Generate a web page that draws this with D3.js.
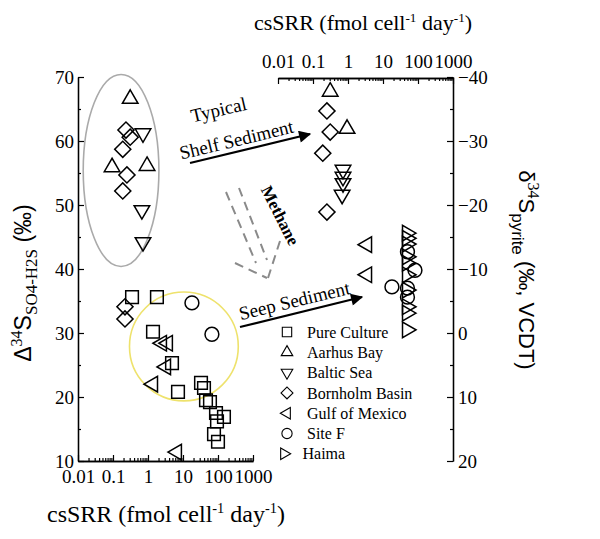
<!DOCTYPE html>
<html>
<head>
<meta charset="utf-8">
<script src="https://cdn.jsdelivr.net/npm/d3@7"></script>
<style>
  body { margin: 0; background: #fff; }
</style>
</head>
<body>
<div id="chart"></div>
<script>
const FRAME_WIDTH = 600;
const FRAME_HEIGHT = 539;
const SERIF = "Liberation Serif";
const SANS = "Liberation Sans";

// series (legend order)
const SERIES = ["Pure Culture", "Aarhus Bay", "Baltic Sea", "Bornholm Basin",
                "Gulf of Mexico", "Site F", "Haima"];

// fractionation vs csSRR (bottom / left axes)
const PURE_SRR = [0.35, 1.8, 1.39, 4.85, 7.2, 32.7, 39.8, 45.4, 59, 87.7, 148, 93.6, 76.9, 100];
const PURE_D   = [35.6, 35.6, 30.2, 25.3, 20.8, 22.2, 21.4, 19.5, 19.2, 17.5, 16.9, 16.2, 14.2, 13.0];
const AARHUS_SRR = [0.31, 0.094, 0.94];
const AARHUS_D   = [66.6, 55.9, 56.1];
const BALTIC_SRR = [0.72, 0.67, 0.72];
const BALTIC_D   = [61.2, 49.2, 44.2];
const BORN_SRR = [0.235, 0.31, 0.19, 0.25, 0.19, 0.22, 0.22];
const BORN_D   = [61.7, 60.6, 58.7, 54.7, 52.2, 34.1, 32.2];
const GULF_SRR = [2.5, 3.7, 3.27, 1.39, 6.7];
const GULF_D   = [28.4, 28.4, 24.7, 22.0, 11.4];
const SITEF_SRR = [18, 67];
const SITEF_D   = [34.7, 29.8];

// pyrite d34S vs csSRR (top / right axes)
const AARHUS_PY_SRR = [0.31, 0.94];
const AARHUS_PY = [-37.7, -31.9];
const BALTIC_PY_SRR = [0.72, 0.72, 0.72, 0.68];
const BALTIC_PY = [-25.5, -24.4, -23.4, -21.6];
const BORN_PY_SRR = [0.25, 0.31, 0.19, 0.25];
const BORN_PY = [-34.7, -31.4, -28.1, -18.9];
const GULF_PY_SRR = [3.5, 3.5];
const GULF_PY = [-13.8, -9.1];
const SITEF_PY_SRR = [50, 82, 18, 50, 50];
const SITEF_PY = [-12.7, -9.8, -7.2, -7.0, -5.6];
const HAIMA_PY_SRR = [48.5, 48.5, 48.5, 48.5, 48.5, 48.5, 48.5, 48.5, 48.5, 48.5];
const HAIMA_PY = [-15.6, -14.8, -13.9, -11.9, -10.9, -9.1, -6.7, -4.1, -3.1, -0.5];

// tick labels
const LOG_TICKS = [0.01, 0.1, 1, 10, 100, 1000];
const LOG_LABELS = ["0.01", "0.1", "1", "10", "100", "1000"];
const LEFT_TICKS = [10, 20, 30, 40, 50, 60, 70];
const RIGHT_TICKS = [-40, -30, -20, -10, 0, 10, 20];
const RIGHT_LABELS = ["\u221240", "\u221230", "\u221220", "\u221210", "0", "10", "20"];

const SVG = d3.select("#chart")
  .append("svg")
    .attr("width", FRAME_WIDTH)
    .attr("height", FRAME_HEIGHT)
    .attr("font-family", SERIF);

// scales
const X_BOT = d3.scaleLog().domain([0.01, 1000]).range([78, 253]);
const Y_LEFT = d3.scaleLinear().domain([10, 70]).range([461, 77]);
const X_TOP = d3.scaleLog().domain([0.01, 1000]).range([278, 453]);
const Y_RIGHT = d3.scaleLinear().domain([-40, 20]).range([77, 461]);

// minor ticks for log axes
const LOG_MINOR = [];
for (let e = -2; e < 3; e++) {
  for (let m = 2; m < 10; m++) LOG_MINOR.push(m * Math.pow(10, e));
}

function styleAxis(g) {
  g.attr("font-family", SERIF).attr("font-size", "19px");
  g.select(".domain").attr("stroke", "#000").attr("stroke-width", 1.3);
  g.selectAll(".tick line").attr("stroke", "#000").attr("stroke-width", 1.2);
  g.selectAll("text").attr("fill", "#000");
}

// bottom axis
SVG.append("g").attr("transform", "translate(0,461)")
  .call(d3.axisBottom(X_BOT).tickValues(LOG_MINOR).tickSize(-3).tickSizeOuter(0).tickFormat(""))
  .call(styleAxis);
SVG.append("g").attr("transform", "translate(0,461)")
  .call(d3.axisBottom(X_BOT).tickValues(LOG_TICKS).tickSize(-6).tickSizeOuter(0)
        .tickPadding(9).tickFormat((d, i) => LOG_LABELS[i]))
  .call(styleAxis);

// top axis
SVG.append("g").attr("transform", "translate(0,78)")
  .call(d3.axisTop(X_TOP).tickValues(LOG_MINOR).tickSize(-3).tickSizeOuter(0).tickFormat(""))
  .call(styleAxis);
SVG.append("g").attr("transform", "translate(0,78)")
  .call(d3.axisTop(X_TOP).tickValues(LOG_TICKS).tickSize(-6).tickSizeOuter(0)
        .tickPadding(10).tickFormat((d, i) => LOG_LABELS[i]))
  .call(styleAxis);

// left axis
SVG.append("g").attr("transform", "translate(78,0)")
  .call(d3.axisLeft(Y_LEFT).tickValues(d3.range(15, 70, 10)).tickSize(-3).tickSizeOuter(0).tickFormat(""))
  .call(styleAxis);
SVG.append("g").attr("transform", "translate(78,0)")
  .call(d3.axisLeft(Y_LEFT).tickValues(LEFT_TICKS).tickSize(-6).tickSizeOuter(0).tickPadding(4))
  .call(styleAxis);

// right axis
SVG.append("g").attr("transform", "translate(453,0)")
  .call(d3.axisRight(Y_RIGHT).tickValues(d3.range(-35, 20, 10)).tickSize(-3).tickSizeOuter(0).tickFormat(""))
  .call(styleAxis);
SVG.append("g").attr("transform", "translate(453,0)")
  .call(d3.axisRight(Y_RIGHT).tickValues(RIGHT_TICKS).tickSize(-6).tickSizeOuter(0)
        .tickPadding(5).tickFormat((d, i) => RIGHT_LABELS[i]))
  .call(styleAxis);

// axis titles
function srrTitle(x, y, size) {
  const t = SVG.append("text").attr("x", x).attr("y", y)
    .attr("text-anchor", "middle").attr("font-size", size + "px");
  t.append("tspan").text("csSRR (fmol cell");
  t.append("tspan").attr("dy", -size * 0.38).attr("font-size", size * 0.6 + "px").text("-1");
  t.append("tspan").attr("dy", size * 0.38).text(" day");
  t.append("tspan").attr("dy", -size * 0.38).attr("font-size", size * 0.6 + "px").text("-1");
  t.append("tspan").attr("dy", size * 0.38).text(")");
}
srrTitle(166, 522, 24);
srrTitle(363, 30, 22);

const leftTitle = SVG.append("text")
  .attr("transform", "translate(31,283) rotate(-90)")
  .attr("text-anchor", "middle").attr("font-size", "23px").attr("font-family", SANS);
leftTitle.append("tspan").text("\u0394");
leftTitle.append("tspan").attr("dy", -9).attr("font-size", "16px")
  .attr("font-family", SERIF).text("34");
leftTitle.append("tspan").attr("dy", 9).text("S");
leftTitle.append("tspan").attr("dy", 6).attr("font-size", "17px")
  .attr("font-family", SERIF).text("SO4-H2S");
leftTitle.append("tspan").attr("dy", -6).text(" (\u2030)");

const rightTitle = SVG.append("text")
  .attr("transform", "translate(519,270) rotate(90)")
  .attr("text-anchor", "middle").attr("font-size", "22px").attr("font-family", SANS);
rightTitle.append("tspan").text("\u03b4");
rightTitle.append("tspan").attr("dy", -9).attr("font-size", "16px")
  .attr("font-family", SERIF).text("34");
rightTitle.append("tspan").attr("dy", 9).text("S");
rightTitle.append("tspan").attr("dy", 7).attr("font-size", "17px").text("pyrite");
rightTitle.append("tspan").attr("dy", -7).text(" (\u2030, VCDT)");

// highlight shapes (data units)
SVG.append("ellipse")
  .attr("cx", X_BOT(0.17)).attr("cy", Y_LEFT(55.4))
  .attr("rx", X_BOT(2.05) - X_BOT(0.17)).attr("ry", Y_LEFT(40.4) - Y_LEFT(55.4))
  .attr("fill", "none").attr("stroke", "#aaaaaa").attr("stroke-width", 1.6);
SVG.append("circle")
  .attr("cx", X_BOT(10.6)).attr("cy", Y_LEFT(27.9))
  .attr("r", Y_LEFT(19.4) - Y_LEFT(27.9))
  .attr("fill", "none").attr("stroke", "#eee26c").attr("stroke-width", 1.6);

// symbols
const SHAPES = [
  {type: d3.symbolSquare, size: 160, rot: 0},
  {type: d3.symbolTriangle, size: 105, rot: 0},
  {type: d3.symbolTriangle, size: 105, rot: 180},
  {type: d3.symbolSquare, size: 130, rot: 45},
  {type: d3.symbolTriangle, size: 105, rot: -90},
  {type: d3.symbolCircle, size: 150, rot: 0},
  {type: d3.symbolTriangle, size: 105, rot: 90}
];

function drawPoints(si, xs, ys, xScale, yScale) {
  const sh = SHAPES[si];
  const pts = xs.map((x, i) => ({x: x, y: ys[i]}));
  SVG.append("g").selectAll("path").data(pts).enter().append("path")
    .attr("d", d3.symbol().type(sh.type).size(sh.size))
    .attr("transform", d => "translate(" + xScale(d.x) + "," + yScale(d.y) + ") rotate(" + sh.rot + ")")
    .attr("fill", "none").attr("stroke", "#000").attr("stroke-width", 1.5);
}

drawPoints(0, PURE_SRR, PURE_D, X_BOT, Y_LEFT);
drawPoints(1, AARHUS_SRR, AARHUS_D, X_BOT, Y_LEFT);
drawPoints(2, BALTIC_SRR, BALTIC_D, X_BOT, Y_LEFT);
drawPoints(3, BORN_SRR, BORN_D, X_BOT, Y_LEFT);
drawPoints(4, GULF_SRR, GULF_D, X_BOT, Y_LEFT);
drawPoints(5, SITEF_SRR, SITEF_D, X_BOT, Y_LEFT);

drawPoints(1, AARHUS_PY_SRR, AARHUS_PY, X_TOP, Y_RIGHT);
drawPoints(2, BALTIC_PY_SRR, BALTIC_PY, X_TOP, Y_RIGHT);
drawPoints(3, BORN_PY_SRR, BORN_PY, X_TOP, Y_RIGHT);
drawPoints(4, GULF_PY_SRR, GULF_PY, X_TOP, Y_RIGHT);
drawPoints(6, HAIMA_PY_SRR, HAIMA_PY, X_TOP, Y_RIGHT);
drawPoints(5, SITEF_PY_SRR, SITEF_PY, X_TOP, Y_RIGHT);

// legend
const legend = SVG.append("g");
SERIES.forEach((name, i) => {
  const sh = SHAPES[i];
  const y = 332 + i * 20.3;
  const dx = i === 6 ? -3 : 0;
  legend.append("path")
    .attr("d", d3.symbol().type(sh.type).size(sh.size * 0.55))
    .attr("transform", "translate(" + (287 + dx) + "," + y + ") rotate(" + sh.rot + ")")
    .attr("fill", "none").attr("stroke", "#000").attr("stroke-width", 1.1);
  legend.append("text").attr("x", 307 + dx * 1.5).attr("y", y).attr("dy", "0.35em")
    .attr("font-size", "16px").text(name);
});

// arrows and annotation text
const defs = SVG.append("defs");
defs.append("marker").attr("id", "head")
  .attr("viewBox", "0 0 10 10").attr("refX", 9).attr("refY", 5)
  .attr("markerWidth", 8).attr("markerHeight", 5.5).attr("markerUnits", "strokeWidth")
  .attr("orient", "auto")
  .append("path").attr("d", "M0,0 L10,5 L0,10 Z").attr("fill", "#000");

SVG.append("line").attr("x1", 190).attr("y1", 163).attr("x2", 310).attr("y2", 134)
  .attr("stroke", "#000").attr("stroke-width", 2.2).attr("marker-end", "url(#head)");
SVG.append("line").attr("x1", 240).attr("y1", 327).attr("x2", 362).attr("y2", 297)
  .attr("stroke", "#000").attr("stroke-width", 2.2).attr("marker-end", "url(#head)");

SVG.append("text").attr("transform", "translate(220,116) rotate(-13)")
  .attr("text-anchor", "middle").attr("font-size", "19px").text("Typical");
SVG.append("text").attr("transform", "translate(238,146) rotate(-13.5)")
  .attr("text-anchor", "middle").attr("font-size", "19px").text("Shelf Sediment");
SVG.append("text").attr("transform", "translate(296,307) rotate(-13.5)")
  .attr("text-anchor", "middle").attr("font-size", "19px").text("Seep Sediment");
SVG.append("text").attr("transform", "translate(275,218) rotate(63)")
  .attr("text-anchor", "middle").attr("font-size", "17px").attr("font-weight", "bold")
  .text("Methane");

// dashed methane arrow
const METHANE_LINES = [
  [[226, 192], [256, 263]],
  [[239, 188], [267, 260]],
  [[235, 263], [267, 278]],
  [[280, 241], [268, 278]]
];
SVG.append("g").selectAll("line").data(METHANE_LINES).enter().append("line")
  .attr("x1", d => d[0][0]).attr("y1", d => d[0][1])
  .attr("x2", d => d[1][0]).attr("y2", d => d[1][1])
  .attr("stroke", "#8a8a8a").attr("stroke-width", 2).attr("stroke-dasharray", "9,6");
</script>
</body>
</html>
